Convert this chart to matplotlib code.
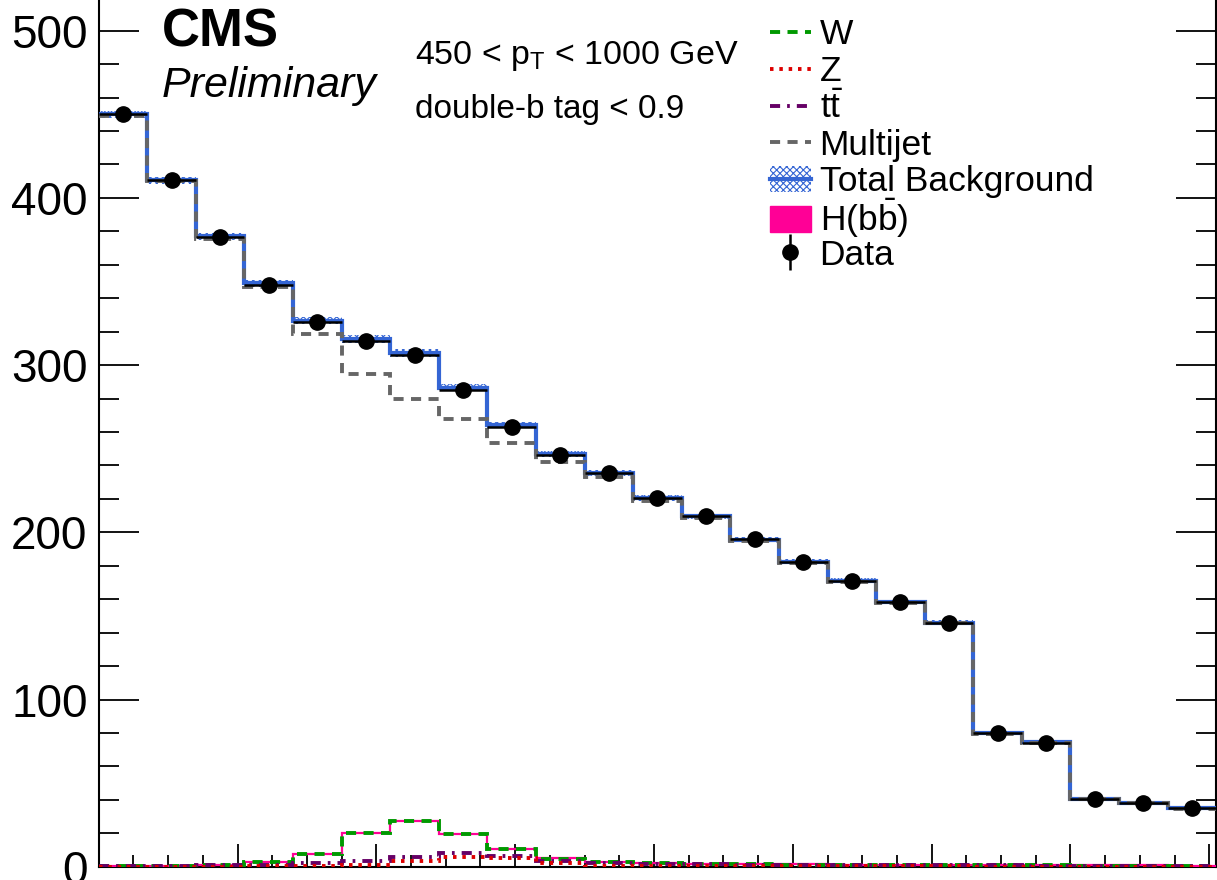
import numpy as np
import matplotlib
matplotlib.use("Agg")
import matplotlib.pyplot as plt
from matplotlib.lines import Line2D
from matplotlib.patches import Patch
from matplotlib.ticker import MultipleLocator

plt.rcParams['font.family'] = ['Liberation Sans', 'DejaVu Sans']
plt.rcParams['mathtext.fontset'] = 'custom'
plt.rcParams['mathtext.rm'] = 'Liberation Sans'
plt.rcParams['mathtext.it'] = 'Liberation Sans:italic'
plt.rcParams['hatch.linewidth'] = 0.8

# soft-drop mass bins, 7 GeV wide
edges = [40, 47, 54, 61, 68, 75, 82, 89, 96, 103, 110, 117, 124,
         131, 138, 145, 152, 159, 166, 173, 180, 187, 194, 201]
centers = [(a + b) / 2 for a, b in zip(edges[:-1], edges[1:])]
half_w = [(b - a) / 2 for a, b in zip(edges[:-1], edges[1:])]

data = [450, 410.5, 376.5, 348, 326, 314.5, 306, 285, 263, 246.2, 235.3, 220.7,
        209.7, 195.8, 182.4, 171, 158.5, 146, 79.8, 74.2, 40.3, 37.9, 34.9]
data_err = [3.5, 3.4, 3.2, 3.1, 3.0, 3.0, 2.9, 2.8, 2.7, 2.6, 2.6, 2.5,
            2.4, 2.3, 2.3, 2.2, 2.1, 2.0, 1.5, 1.4, 1.0, 1.0, 1.0]
total = [450, 410.5, 377, 349, 326.5, 315.5, 307.5, 286.5, 264, 246.8, 235.5, 220.5,
         209.5, 195.5, 182.5, 171, 158.5, 146, 80, 74.5, 40.5, 38, 35]
total_unc = [2.2, 2.1, 2.0, 2.0, 2.0, 2.4, 2.4, 2.0, 1.8, 1.7, 1.6, 1.6,
             1.5, 1.5, 1.4, 1.4, 1.3, 1.3, 1.0, 1.0, 0.8, 0.8, 0.8]
multijet = [449, 410, 375.5, 347, 318.7, 294.7, 279.7, 267.6, 253.6, 241.9, 233.3, 219,
            208.5, 194.5, 181.5, 170.3, 158, 145.5, 79.5, 74, 40.3, 37.8, 34.8]
wjets = [0.3, 0.4, 1.0, 2.6, 7.6, 20, 27.3, 19.5, 10.4, 4.8, 2.6, 2.0,
         1.8, 1.5, 1.3, 1.2, 1.0, 0.9, 0.8, 0.8, 0.7, 0.7, 0.6]
zjets = [0.1, 0.1, 0.1, 0.2, 0.2, 1.0, 3.3, 6.0, 5.2, 2.4, 0.5, 0.3,
         0.3, 0.2, 0.2, 0.2, 0.2, 0.2, 0.1, 0.1, 0.1, 0.1, 0.1]
ttbar = [0.5, 0.6, 0.8, 1.0, 2.0, 3.4, 6.0, 8.0, 6.6, 3.6, 2.0, 1.6,
         1.4, 1.3, 1.2, 1.1, 1.0, 0.9, 0.8, 0.7, 0.6, 0.5, 0.5]
hbb = [0.5, 0.5, 1.1, 2.8, 7.8, 20.2, 27.5, 19.7, 10.6, 5.0, 2.8, 2.1,
       1.9, 1.6, 1.4, 1.3, 1.1, 1.0, 0.9, 0.9, 0.8, 0.8, 0.7]

c_blue = '#3465d4'
c_gray = '#666666'
c_green = '#009900'
c_red = '#dd0000'
c_purple = '#660066'
c_pink = '#ff0096'
plt.rcParams['hatch.color'] = c_blue

ls_w = (0, (2.6, 1.9))
ls_z = (0, (0.9, 1.5))
ls_tt = (0, (2.6, 1.8, 0.7, 1.8))
ls_qcd = (0, (2.6, 1.9))
lw_bkg = 2.8

W, H = 1217, 880
fig = plt.figure(figsize=(W / 100, H / 100), dpi=100)
y0, y1 = 0, 560
px_per_unit = 167.2 / 100
ax = fig.add_axes([98.7 / W, 13.3 / H, 1117.5 / W, (y1 - y0) * px_per_unit / H])

edges_a = np.array(edges)
tot = np.array(total)
unc = np.array(total_unc)

ax.stairs(tot + unc, edges_a, baseline=tot - unc, fill=True, facecolor='none',
          edgecolor=c_blue, hatch='xxxxx', lw=0, zorder=2)
ax.stairs(hbb, edges_a, baseline=None, color=c_pink, lw=1.6, zorder=3)
ax.stairs(wjets, edges_a, baseline=None, color=c_green, lw=lw_bkg, linestyle=ls_w, zorder=4)
ax.stairs(ttbar, edges_a, baseline=None, color=c_purple, lw=lw_bkg, linestyle=ls_tt, zorder=5)
ax.stairs(zjets, edges_a, baseline=None, color=c_red, lw=lw_bkg, linestyle=ls_z, zorder=6)
ax.stairs(total, edges_a, baseline=None, color=c_blue, lw=3.0, zorder=7)
ax.stairs(multijet, edges_a, baseline=None, color=c_gray, lw=lw_bkg, linestyle=ls_qcd, zorder=8)
ax.errorbar(centers, data, xerr=half_w, yerr=data_err, fmt='o', color='black',
            ms=11, elinewidth=1.8, capsize=0, zorder=10)

# legend handles
h_w = Line2D([], [], color=c_green, lw=lw_bkg, linestyle=ls_w)
h_z = Line2D([], [], color=c_red, lw=lw_bkg, linestyle=ls_z)
h_tt = Line2D([], [], color=c_purple, lw=lw_bkg, linestyle=ls_tt)
h_qcd = Line2D([], [], color=c_gray, lw=lw_bkg, linestyle=ls_qcd)
h_tot = (Patch(facecolor='white', edgecolor=c_blue, hatch='xxxxx', lw=0),
         Line2D([], [], color=c_blue, lw=3.0))
h_h = Patch(facecolor=c_pink, edgecolor=c_pink)
h_data = ax.errorbar([], [], yerr=[], fmt='o', color='black', ms=11,
                     elinewidth=1.8, capsize=0)

ax.set_xlim(40, 201)
ax.set_ylim(y0, y1)
ax.xaxis.set_major_locator(MultipleLocator(20))
ax.xaxis.set_minor_locator(MultipleLocator(5))
ax.yaxis.set_major_locator(MultipleLocator(100))
ax.yaxis.set_minor_locator(MultipleLocator(20))
ax.tick_params(axis='y', which='major', direction='in', length=28.5, width=1.3,
               left=True, right=True, labelsize=33, pad=8)
ax.tick_params(axis='y', which='minor', direction='in', length=14.5, width=1.3,
               left=True, right=True)
ax.tick_params(axis='x', which='major', direction='in', length=16.5, width=1.3,
               top=True, bottom=True, labelbottom=False)
ax.tick_params(axis='x', which='minor', direction='in', length=8.5, width=1.3,
               top=True, bottom=True)
for sp in ax.spines.values():
    sp.set_linewidth(1.5)

fig.text(162 / W, 1 - 46.7 / H, 'CMS', fontsize=38, fontweight='bold', va='baseline')
fig.text(162 / W, 1 - 97.3 / H, 'Preliminary', fontsize=31, style='italic', va='baseline')
fig.text(415 / W, 1 - 64 / H, r'450 < p$_{\mathregular{T}}$ < 1000 GeV', fontsize=24.5,
         va='baseline')
fig.text(415 / W, 1 - 118 / H, 'double-b tag < 0.9', fontsize=24, va='baseline')

labels = ['W', 'Z', r't$\bar{\mathrm{t}}$', 'Multijet', 'Total Background',
          r'H(b$\bar{\mathrm{b}}$)', 'Data']
handles = [h_w, h_z, h_tt, h_qcd, h_tot, h_h, h_data]
row0, row_step = 35, 36.7
for i, (h, lab) in enumerate(zip(handles, labels)):
    fig.legend([h], [lab], loc='center left',
               bbox_to_anchor=(770 / W, 1 - (row0 + row_step * i) / H),
               frameon=False, fontsize=25.5, borderpad=0, borderaxespad=0,
               handlelength=1.15, handleheight=0.72, handletextpad=0.25)

fig.savefig('out.png', dpi=100)
